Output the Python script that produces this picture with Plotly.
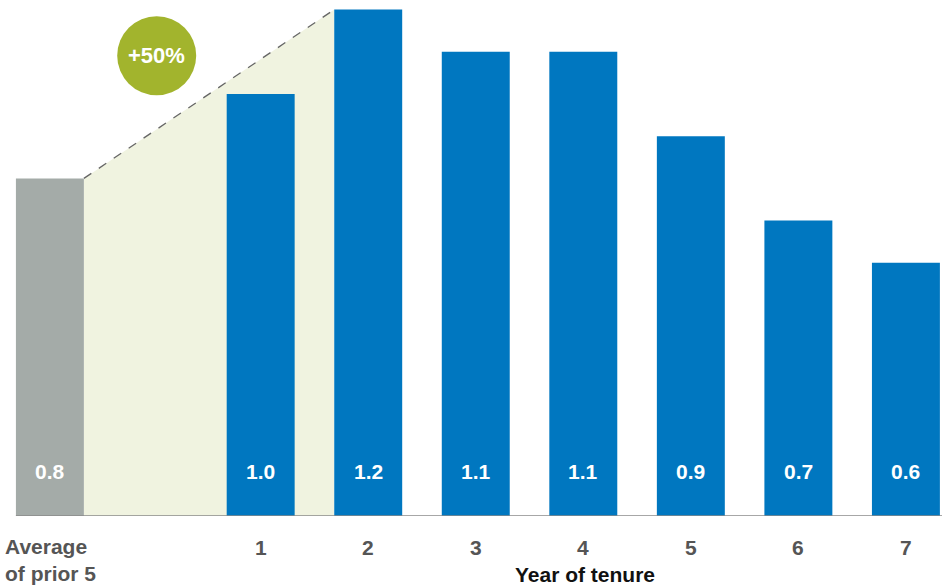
import plotly.graph_objects as go

# ---- data ----
avg_label = "Average<br>of prior 5"
avg_value = 0.8
years = [1, 2, 3, 4, 5, 6, 7]
year_values = [1.0, 1.2, 1.1, 1.1, 0.9, 0.7, 0.6]
year_ticks = ["1", "2", "3", "4", "5", "6", "7"]
increase_label = "+50%"
axis_title = "Year of tenure"

AVG_X = -0.96
BAR_W = 0.632
BLUE = "#0077c0"
GREY_BAR = "#a4aba8"
SHADE = "#f0f3e0"
GREEN = "#a2b42d"
FONT = "Liberation Sans, Arial, Helvetica, sans-serif"
PXU = 107.54  # pixels per x unit
X0 = 4 - 583.3 / PXU
X1 = 4 + 358.7 / PXU
Y1 = 516 / 422

fig = go.Figure()

fig.add_trace(go.Bar(x=[AVG_X], y=[avg_value], width=BAR_W,
                     marker=dict(color=GREY_BAR, line=dict(width=0)), showlegend=False))
fig.add_trace(go.Bar(x=years, y=year_values, width=BAR_W,
                     marker=dict(color=BLUE, line=dict(width=0)), showlegend=False))

# shaded wedge from average bar to peak bar (below traces)
peak_i = year_values.index(max(year_values))
peak_x = years[peak_i]
x_left = AVG_X + BAR_W / 2
x_right = peak_x - BAR_W / 2
fig.add_shape(type="path", xref="x", yref="y",
              path=f"M {x_left},0 L {x_left},{avg_value} L {x_right},{max(year_values)} L {x_right},0 Z",
              fillcolor=SHADE, line=dict(width=0), layer="below")

# dashed line
fig.add_trace(go.Scatter(
    x=[x_left, x_right], y=[avg_value, max(year_values)],
    mode="lines", line=dict(color="#666666", width=1.3, dash="dash"),
    hoverinfo="skip", showlegend=False))

# baseline
fig.add_shape(type="line", xref="x", yref="y", x0=AVG_X - BAR_W / 2, x1=X1,
              y0=0, y1=0, line=dict(color="#8a8a8a", width=1.5), layer="above")

# green circle
cx = 4 + (156.7 - 583.3) / PXU
cy = (516 - 55.7) / 422
rx, ry = 39.5 / PXU, 39.5 / 422
fig.add_shape(type="circle", xref="x", yref="y", x0=cx - rx, x1=cx + rx,
              y0=cy - ry, y1=cy + ry, fillcolor=GREEN, line=dict(width=0), layer="above")

ann = []
ann.append(dict(x=cx, y=cy, text=f"<b>{increase_label}</b>", showarrow=False,
                font=dict(family=FONT, size=22, color="white"),
                xanchor="center", yanchor="middle"))

# value labels inside bars
all_x = [AVG_X] + years
all_v = [avg_value] + year_values
for xv, v in zip(all_x, all_v):
    ann.append(dict(x=xv, y=0, text=f"<b>{v:.1f}</b>", showarrow=False,
                    font=dict(family=FONT, size=21, color="white"),
                    xanchor="center", yanchor="middle", yshift=45))

# tick labels
for xv, t in zip(years, year_ticks):
    ann.append(dict(x=xv, y=0, text=f"<b>{t}</b>", showarrow=False,
                    font=dict(family=FONT, size=21, color="#555555"),
                    xanchor="center", yanchor="middle", yshift=-31))
ann.append(dict(x=3 / 942, xref="paper", y=0, text=f"<b>{avg_label}</b>", showarrow=False,
                font=dict(family=FONT, size=21, color="#555555"), align="left",
                xanchor="left", yanchor="top", yshift=-17))
ann.append(dict(x=4 + (585 - 583.3) / PXU, y=0, text=f"<b>{axis_title}</b>", showarrow=False,
                font=dict(family=FONT, size=21, color="#111111"),
                xanchor="center", yanchor="bottom", yshift=-71, borderpad=0))

fig.update_layout(
    width=942, height=587,
    margin=dict(l=0, r=0, t=0, b=71),
    paper_bgcolor="white", plot_bgcolor="white",
    barmode="overlay",
    xaxis=dict(range=[X0, X1], visible=False, fixedrange=True),
    yaxis=dict(range=[0, Y1], visible=False, fixedrange=True),
    annotations=ann,
    font=dict(family=FONT),
)

fig.write_html("out.html")
